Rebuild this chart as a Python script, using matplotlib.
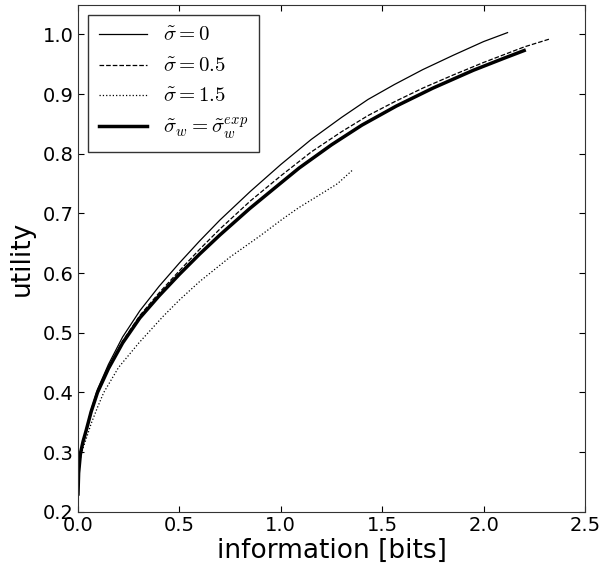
import matplotlib
matplotlib.use('Agg')
import matplotlib.pyplot as plt

plt.rcParams['mathtext.fontset'] = 'cm'

# sigma = 0
x0 = [0.0, 0.003, 0.012, 0.025, 0.04, 0.065, 0.096, 0.15, 0.22, 0.305, 0.4, 0.5, 0.6, 0.7,
      0.85, 1.0, 1.15, 1.3, 1.43, 1.56, 1.7, 1.85, 2.0, 2.118]
y0 = [0.23, 0.265, 0.298, 0.319, 0.338, 0.371, 0.405, 0.447, 0.493, 0.537, 0.578, 0.617, 0.654, 0.689,
      0.737, 0.782, 0.824, 0.861, 0.891, 0.916, 0.941, 0.965, 0.988, 1.003]

# sigma = 0.5
x1 = [0.0, 0.003, 0.012, 0.025, 0.04, 0.065, 0.096, 0.15, 0.22, 0.305, 0.4, 0.5, 0.6, 0.7,
      0.85, 1.0, 1.15, 1.3, 1.43, 1.56, 1.7, 1.85, 2.0, 2.2, 2.323]
y1 = [0.23, 0.265, 0.298, 0.318, 0.336, 0.368, 0.401, 0.442, 0.486, 0.529, 0.567, 0.604, 0.640, 0.674,
      0.721, 0.763, 0.803, 0.837, 0.864, 0.887, 0.910, 0.932, 0.953, 0.979, 0.992]

# sigma = 1.5
x2 = [0.0, 0.003, 0.012, 0.025, 0.04, 0.065, 0.096, 0.127, 0.2, 0.3, 0.418, 0.5, 0.6, 0.75,
      0.896, 1.01, 1.09, 1.2, 1.28, 1.358]
y2 = [0.23, 0.262, 0.29, 0.307, 0.322, 0.348, 0.375, 0.40, 0.442, 0.483, 0.527, 0.555, 0.586, 0.627,
      0.662, 0.691, 0.71, 0.733, 0.75, 0.774]

# sigma_w = sigma_w^exp
x3 = [0.0, 0.003, 0.012, 0.025, 0.04, 0.065, 0.096, 0.15, 0.22, 0.305, 0.4, 0.5, 0.6, 0.7,
      0.846, 1.0, 1.09, 1.25, 1.4, 1.57, 1.75, 1.95, 2.1, 2.2]
y3 = [0.23, 0.265, 0.298, 0.318, 0.336, 0.368, 0.40, 0.44, 0.483, 0.525, 0.562, 0.598, 0.632, 0.664,
      0.708, 0.751, 0.776, 0.815, 0.848, 0.880, 0.910, 0.940, 0.960, 0.973]

fig = plt.figure(figsize=(6, 5.7), dpi=100)
ax = fig.add_axes([0.13, 0.102, 0.845, 0.89])

ax.plot(x0, y0, color='k', lw=0.9, label=r'$\tilde{\sigma}=0$')
ax.plot(x1, y1, color='k', lw=0.9, ls='--', label=r'$\tilde{\sigma}=0.5$')
ax.plot(x2, y2, color='k', lw=0.9, ls=':', label=r'$\tilde{\sigma}=1.5$')
ax.plot(x3, y3, color='k', lw=2.5, label=r'$\tilde{\sigma}_w=\tilde{\sigma}_w^{exp}$')

ax.set_xlim(0, 2.5)
ax.set_ylim(0.2, 1.05)
ax.set_xticks([0.0, 0.5, 1.0, 1.5, 2.0, 2.5])
ax.set_yticks([0.2, 0.3, 0.4, 0.5, 0.6, 0.7, 0.8, 0.9, 1.0])
ax.tick_params(direction='in', top=True, right=True, labelsize=14, length=4, pad=3)
for s in ax.spines.values():
    s.set_color('#333333')

ax.set_xlabel('information [bits]', fontsize=19, labelpad=2)
ax.set_ylabel('utility', fontsize=19, labelpad=6)

leg = ax.legend(loc='upper left', fontsize=15, fancybox=False, handlelength=2.3,
                borderpad=0.5, labelspacing=0.5, borderaxespad=0.5)
leg.get_frame().set_edgecolor('k')

fig.savefig('out.png', dpi=100)
